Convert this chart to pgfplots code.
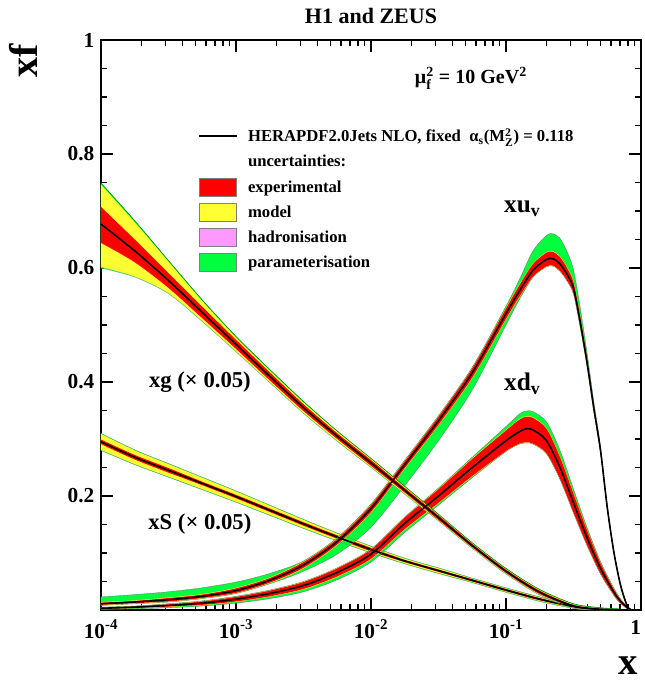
\documentclass[border=0pt]{standalone}
\usepackage{fontspec}
\setmainfont{Liberation Serif}
\usepackage{amsmath}
\usepackage{pgfplots}
\pgfplotsset{compat=1.18}
\usepackage{pgfplotstable}
\usepgfplotslibrary{fillbetween}
\definecolor{cred}{RGB}{255,0,0}
\definecolor{cyel}{RGB}{255,255,51}
\definecolor{cpink}{RGB}{255,153,255}
\definecolor{cgreen}{RGB}{0,255,60}
\pgfplotsset{
 boxlegend/.style={legend image code/.code={\draw[##1] (0pt,-6.75pt) rectangle (28pt,6.75pt);}},
 linelegend/.style={legend image code/.code={\draw[##1] (0pt,0pt) -- (28pt,0pt);}},
}
\newcommand\band[5]{%
 \addplot[name path=#5lo, draw=none, forget plot, smooth] table[x=x,y=#2]{#1};
 \addplot[name path=#5hi, draw=none, forget plot, smooth] table[x=x,y=#3]{#1};
 \addplot[fill=#4, draw=none, forget plot] fill between[of=#5lo and #5hi];
}
% gluon x 0.05
\pgfplotstableread{
x c rl rh yl yh gl gh
1e-4 .677 .644 .707 .602 .746 .600 .749
1.778e-4 .630 .610 .650 .585 .680 .584 .683
3.162e-4 .578 .565 .591 .556 .611 .555 .613
5.623e-4 .522 .512 .532 .507 .542 .506 .544
1e-3 .466 .458 .474 .454 .478 .453 .480
1.778e-3 .410 .403 .417 .400 .420 .399 .422
3.162e-3 .355 .349 .361 .346 .364 .345 .366
5.623e-3 .305 .300 .310 .297 .313 .296 .314
1e-2 .258 .253 .263 .251 .265 .250 .266
1.778e-2 .210 .206 .214 .204 .216 .203 .217
3.162e-2 .162 .158 .166 .157 .167 .156 .168
5.623e-2 .113 .110 .116 .109 .117 .108 .118
0.1 .068 .065 .071 .064 .072 .063 .073
0.1778 .031 .028 .034 .027 .035 .026 .036
0.3162 .007 .005 .009 .004 .010 .003 .011
0.5012 .001 .000 .002 .000 .003 .000 .004
0.7079 .000 .000 .001 .000 .001 .000 .002
}\gtab
% sea x 0.05
\pgfplotstableread{
x c rl rh yl yh gl gh
1e-4 .295 .291 .299 .281 .309 .280 .310
1.778e-4 .268 .264 .272 .256 .280 .255 .281
3.162e-4 .245 .241 .249 .234 .256 .233 .257
5.623e-4 .222 .219 .225 .212 .232 .211 .233
1e-3 .199 .196 .202 .190 .208 .189 .209
1.778e-3 .175 .172 .178 .167 .183 .166 .184
3.162e-3 .151 .148 .154 .144 .158 .143 .159
5.623e-3 .128 .125 .131 .122 .134 .121 .135
1e-2 .106 .103 .109 .101 .111 .100 .112
1.778e-2 .086 .084 .088 .082 .090 .081 .091
3.162e-2 .069 .067 .071 .065 .073 .064 .074
5.623e-2 .052 .050 .054 .049 .055 .048 .056
0.1 .035 .033 .037 .032 .038 .031 .039
0.1778 .019 .017 .021 .016 .022 .015 .023
0.3162 .006 .005 .007 .004 .008 .003 .009
0.5012 .001 .000 .002 .000 .002 .000 .003
0.7079 .000 .000 .001 .000 .001 .000 .001
}\stab
% xu_v
\pgfplotstableread{
x c rl rh yl yh gl gh
1e-4 .011 .009 .013 .008 .014 .008 .023
1.778e-4 .014 .012 .016 .011 .017 .011 .027
3.162e-4 .018 .015 .021 .014 .022 .014 .032
5.623e-4 .024 .021 .027 .020 .028 .020 .039
1e-3 .034 .030 .038 .029 .039 .029 .049
1.778e-3 .052 .048 .056 .047 .057 .046 .064
3.162e-3 .079 .074 .084 .073 .085 .068 .086
5.623e-3 .120 .115 .125 .114 .126 .098 .127
1e-2 .178 .172 .184 .171 .185 .145 .186
1.778e-2 .255 .249 .261 .248 .262 .218 .263
3.162e-2 .332 .325 .339 .324 .340 .297 .341
5.623e-2 .416 .408 .424 .407 .425 .386 .426
0.1 .520 .511 .529 .510 .530 .500 .533
0.1259 .560 .550 .570 .549 .571 .545 .580
0.1585 .596 .585 .607 .584 .608 .584 .630
0.1995 .615 .603 .627 .602 .628 .602 .657
0.2239 .616 .604 .628 .603 .629 .603 .660
0.2512 .607 .595 .619 .594 .620 .594 .652
0.2818 .590 .579 .601 .578 .602 .578 .630
0.3162 .565 .555 .575 .554 .576 .554 .597
0.3548 .505 .496 .514 .495 .515 .495 .530
0.3981 .435 .428 .442 .427 .443 .427 .452
0.4467 .355 .349 .361 .348 .362 .348 .366
0.5012 .280 .276 .284 .275 .285 .275 .287
0.5623 .180 .177 .183 .176 .184 .176 .185
0.6310 .100 .098 .102 .097 .103 .097 .104
0.7079 .042 .041 .043 .040 .044 .040 .045
0.7943 .006 .005 .007 .005 .007 .005 .007
0.8511 .000 .000 .001 .000 .001 .000 .001
}\utab
% xd_v
\pgfplotstableread{
x c rl rh yl yh gl gh
1e-4 .003 .002 .004 .002 .004 .001 .005
1.778e-4 .005 .0035 .0065 .003 .007 .002 .007
3.162e-4 .008 .006 .010 .0055 .0105 .004 .011
5.623e-4 .012 .009 .015 .0085 .0155 .007 .016
1e-3 .019 .015 .023 .0145 .0235 .012 .024
1.778e-3 .029 .024 .034 .0235 .0345 .020 .035
3.162e-3 .043 .037 .049 .036 .050 .032 .050
5.623e-3 .066 .059 .073 .058 .074 .053 .074
1e-2 .098 .090 .106 .089 .107 .084 .107
1.778e-2 .152 .142 .162 .141 .163 .136 .163
3.162e-2 .200 .188 .212 .187 .213 .184 .214
5.623e-2 .250 .235 .265 .234 .266 .232 .268
0.1 .297 .279 .315 .278 .316 .278 .322
0.1259 .313 .292 .334 .291 .335 .291 .344
0.1413 .318 .294 .339 .293 .340 .293 .349
0.1585 .316 .292 .337 .291 .338 .291 .348
0.1995 .297 .275 .318 .274 .319 .274 .330
0.2512 .250 .230 .268 .229 .269 .229 .280
0.3162 .188 .171 .204 .170 .205 .170 .212
0.3981 .127 .114 .140 .113 .141 .113 .145
0.5012 .073 .064 .082 .063 .083 .063 .085
0.6310 .031 .026 .036 .025 .037 .025 .038
0.7079 .015 .012 .018 .011 .019 .011 .019
0.7943 .004 .002 .006 .002 .006 .002 .006
0.8511 .000 .000 .001 .000 .001 .000 .001
}\dtab
\begin{document}
\begin{tikzpicture}
\begin{axis}[
 at={(0,0)}, anchor=south west,
 width=405pt, height=427.5pt, scale only axis,
 xmode=log, xmin=1e-4, xmax=1, ymin=0, ymax=1,
 axis line style={line width=1.1pt},
 tick style={line width=0.9pt, black},
 major tick length=9pt, minor tick length=4.5pt,
 xtick={1e-4,1e-3,1e-2,1e-1,1},
 xticklabels={10\textsuperscript{-4},10\textsuperscript{-3},10\textsuperscript{-2},10\textsuperscript{-1},\hspace*{-8pt}1},
 minor xtick={2e-4,3e-4,4e-4,5e-4,6e-4,7e-4,8e-4,9e-4,2e-3,3e-3,4e-3,5e-3,6e-3,7e-3,8e-3,9e-3,2e-2,3e-2,4e-2,5e-2,6e-2,7e-2,8e-2,9e-2,0.2,0.3,0.4,0.5,0.6,0.7,0.8,0.9},
 ytick={0.2,0.4,0.6,0.8,1}, yticklabels={0.2,0.4,0.6,0.8,1},
 minor ytick={0.05,0.1,0.15,0.25,0.3,0.35,0.45,0.5,0.55,0.65,0.7,0.75,0.85,0.9,0.95},
 ticklabel style={font=\bfseries\fontsize{16}{18}\selectfont},
 xticklabel style={yshift=-4pt},
 yticklabel style={xshift=-1.5pt},
 legend style={at={(0.18,0.85)}, anchor=north west, draw=none, fill=none,
   font=\bfseries\fontsize{12.5}{14}\selectfont, row sep=4.6pt, inner sep=0pt,
   /tikz/every odd column/.append style={column sep=6pt}},
 legend cell align=left,
]
% sea
\band{\stab}{gl}{gh}{cgreen}{sg}
\band{\stab}{yl}{yh}{cyel}{sy}
\band{\stab}{rl}{rh}{cred}{sr}
\addplot[smooth, black!50, line width=0.25pt, forget plot] table[x=x,y=gh]{\stab};
\addplot[smooth, black!50, line width=0.25pt, forget plot] table[x=x,y=gl]{\stab};
\addplot[smooth, black, line width=1.2pt, forget plot] table[x=x,y=c]{\stab};
% xd_v
\band{\dtab}{gl}{gh}{cgreen}{dg}
\band{\dtab}{yl}{yh}{cyel}{dy}
\band{\dtab}{rl}{rh}{cred}{dr}
\addplot[smooth, black!55, line width=0.25pt, forget plot] table[x=x,y=gh]{\dtab};
\addplot[smooth, black!55, line width=0.25pt, forget plot] table[x=x,y=gl]{\dtab};
\addplot[smooth, black, line width=1.2pt, forget plot] table[x=x,y=c]{\dtab};
% xu_v
\band{\utab}{gl}{gh}{cgreen}{ug}
\band{\utab}{yl}{yh}{cyel}{uy}
\band{\utab}{rl}{rh}{cred}{ur}
\addplot[smooth, black!55, line width=0.25pt, forget plot] table[x=x,y=gh]{\utab};
\addplot[smooth, black!55, line width=0.25pt, forget plot] table[x=x,y=gl]{\utab};
\addplot[smooth, black, line width=1.2pt, forget plot] table[x=x,y=c]{\utab};
% gluon
\band{\gtab}{gl}{gh}{cgreen}{gg}
\band{\gtab}{yl}{yh}{cyel}{gy}
\band{\gtab}{rl}{rh}{cred}{gr}
\addplot[smooth, green!50!black, line width=0.4pt, forget plot] table[x=x,y=gh]{\gtab};
\addplot[smooth, black!40, line width=0.25pt, forget plot] table[x=x,y=gl]{\gtab};
\addplot[smooth, black, line width=1.2pt, forget plot] table[x=x,y=c]{\gtab};
% legend
\addlegendimage{linelegend, black, line width=1.2pt}
\addlegendentry{HERAPDF2.0Jets NLO, fixed\ \ α$_{\text{s}}$(M$_{\text{Z}}^{\text{2}}$) = 0.118}
\addlegendimage{empty legend}
\addlegendentry{uncertainties:}
\addlegendimage{boxlegend, fill=cred, draw=black!50}
\addlegendentry{experimental}
\addlegendimage{boxlegend, fill=cyel, draw=black!50}
\addlegendentry{model}
\addlegendimage{boxlegend, fill=cpink, draw=black!50}
\addlegendentry{hadronisation}
\addlegendimage{boxlegend, fill=cgreen, draw=black!50}
\addlegendentry{parameterisation}
% labels
\node[font=\bfseries\fontsize{17}{19}\selectfont] at (axis cs:5.4e-4,0.40) {xg (× 0.05)};
\node[font=\bfseries\fontsize{17}{19}\selectfont] at (axis cs:5.4e-4,0.151) {xS (× 0.05)};
\node[font=\bfseries\fontsize{19}{21}\selectfont] at (axis cs:0.132,0.704) {xu$_{\text{v}}$};
\node[font=\bfseries\fontsize{19}{21}\selectfont] at (axis cs:0.132,0.397) {xd$_{\text{v}}$};
\node[font=\bfseries\fontsize{15}{17}\selectfont] at (axis cs:0.055,0.933) {μ$_{\text{f}}^{\text{2}}$ = 10 GeV$^{\text{2}}$};
\end{axis}
\node[font=\bfseries\fontsize{16.5}{18}\selectfont, anchor=base] at (202.5pt,439.5pt) {H1 and ZEUS};
\node[rotate=90, font=\bfseries\fontsize{30}{32}\selectfont] at (-58pt,412pt) {xf};
\node[font=\bfseries\fontsize{29}{31}\selectfont, anchor=base, inner sep=0pt] at (395pt,-48.5pt) {x};
\pgfresetboundingbox
\path[use as bounding box] (-75.75pt,-54pt) rectangle (407.25pt,457.5pt);
\end{tikzpicture}
\end{document}
